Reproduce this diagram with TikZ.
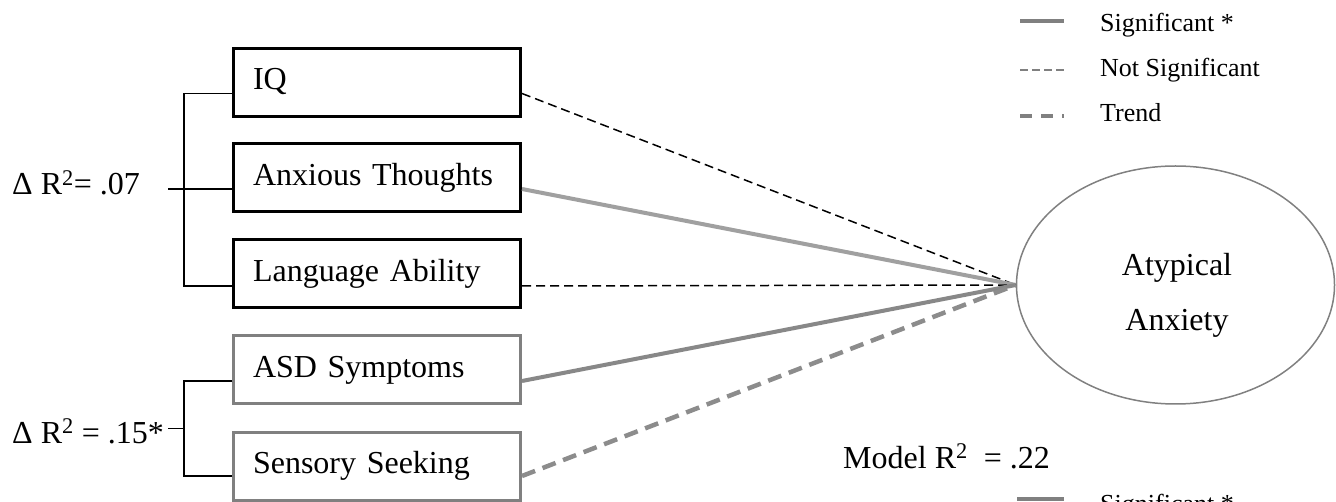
\documentclass[tikz,border=0pt]{standalone}
\usepackage{fontspec}
\setmainfont{Liberation Serif}
\usetikzlibrary{shapes.geometric,calc}
\definecolor{boxgray}{RGB}{128,128,128}
\definecolor{siglight}{RGB}{160,160,160}
\definecolor{sigdark}{RGB}{136,136,136}
\definecolor{trendgray}{RGB}{140,140,140}
\definecolor{leggray}{RGB}{128,128,128}
\begin{document}
\begin{tikzpicture}[x=1pt,y=-1pt,
  varbox/.style={draw, line width=3pt, minimum width=287pt, minimum height=68pt,
    text width=248pt, inner xsep=19.5pt, inner ysep=0pt, align=left,
    text height=22.4pt, text depth=8pt, font=\fontsize{32}{38}\selectfont},
  blackbox/.style={varbox, draw=black},
  graybox/.style={varbox, draw=boxgray},
  lbl/.style={inner sep=0pt, font=\fontsize{32}{38}\selectfont},
  legtext/.style={inner sep=0pt, anchor=base west, font=\fontsize{26}{30}\selectfont},
  brk/.style={draw=black, line width=1.3pt},
  nsig/.style={draw=black, line width=1.5pt, dash pattern=on 9pt off 5pt},
  sigA/.style={draw=siglight, line width=4pt},
  sigB/.style={draw=sigdark, line width=4pt},
  trend/.style={draw=trendgray, line width=4.5pt, dash pattern=on 14pt off 8pt},
  legsig/.style={draw=leggray, line width=4pt},
  legnsig/.style={draw=leggray, line width=1.3pt, dash pattern=on 8pt off 4pt},
  legtrend/.style={draw=leggray, line width=4pt, dash pattern=on 12pt off 9pt}
]
\useasboundingbox (0,0) rectangle (1336,502);
\clip (0,0) rectangle (1336,502);

% predictor boxes
\node[blackbox] (iq)   at (377,82.5) {IQ};
\node[blackbox] (anx)  at (377,178)  {Anxious Thoughts};
\node[blackbox] (lang) at (377,274)  {Language Ability};
\node[graybox]  (asd)  at (377,370)  {ASD Symptoms};
\node[graybox]  (sens) at (377,466)  {Sensory Seeking};

% outcome
\node[ellipse, draw=boxgray, line width=1.5pt, minimum width=318pt,
      minimum height=238pt, inner sep=0pt] (aa) at (1175.5,285) {};
\node[inner sep=0pt, align=center, font=\fontsize{32}{55}\selectfont] (aat)
      at (1177,295) {Atypical\\Anxiety};

% connection points
\coordinate (iqE)   at ([yshift=-11pt]iq.east);
\coordinate (anxE)  at ([yshift=-11pt]anx.east);
\coordinate (langE) at ([yshift=-12pt]lang.east);
\coordinate (asdE)  at ([yshift=-11pt]asd.east);
\coordinate (sensE) at ([yshift=-10pt]sens.east);
\coordinate (iqW)   at ([yshift=-11pt]iq.west);
\coordinate (anxW)  at ([yshift=-11pt]anx.west);
\coordinate (langW) at ([yshift=-12pt]lang.west);
\coordinate (asdW)  at ([yshift=-11pt]asd.west);
\coordinate (sensW) at ([yshift=-10pt]sens.west);

% paths to outcome
\draw[nsig]  (iqE)   -- (aa.west);
\draw[sigA]  (anxE)  -- (aa.west);
\draw[nsig]  (langE) -- (aa.west);
\draw[sigB]  (asdE)  -- (aa.west);
\draw[trend] (sensE) -- (aa.west);

% brackets
\draw[brk] (iqW) -- ++(-48,0) |- (langW);
\draw[brk] (anxW) -- ++(-64,0);
\draw[brk] (asdW) -- ++(-48,0) |- (sensW);
\coordinate (mid2) at ($(asdW)!0.5!(sensW)$);
\coordinate (tk2a) at ($(mid2)+(-48,0)$);
\coordinate (tk2b) at ($(mid2)+(-64,0)$);
\draw[brk] (tk2a) -- (tk2b);

% R^2 labels
\node[lbl, anchor=base west] (dr1) at (12,195) {Δ R\textsuperscript{2}= .07};
\node[lbl, anchor=base west] (dr2) at (12,443) {Δ R\textsuperscript{2} = .15*};
\node[lbl, anchor=base west] (model) at (843,468) {Model R\textsuperscript{2}~ = .22};

% legend (top)
\coordinate (l1a) at (1020,21);  \coordinate (l1b) at (1064,21);
\coordinate (l2a) at (1020,70);  \coordinate (l2b) at (1064,70);
\coordinate (l3a) at (1020,116); \coordinate (l3b) at (1064,116);
\draw[legsig]   (l1a) -- (l1b);
\draw[legnsig]  (l2a) -- (l2b);
\draw[legtrend] (l3a) -- (l3b);
\node[legtext] (t1) at (1100,32)  {Significant *};
\node[legtext] (t2) at (1100,77)  {Not Significant};
\node[legtext] (t3) at (1100,122) {Trend};

% legend (bottom, cut off)
\coordinate (l4a) at (1017,499); \coordinate (l4b) at (1064,499);
\draw[legsig] (l4a) -- (l4b);
\node[legtext] (t4) at (1100,512) {Significant *};
\end{tikzpicture}
\end{document}
